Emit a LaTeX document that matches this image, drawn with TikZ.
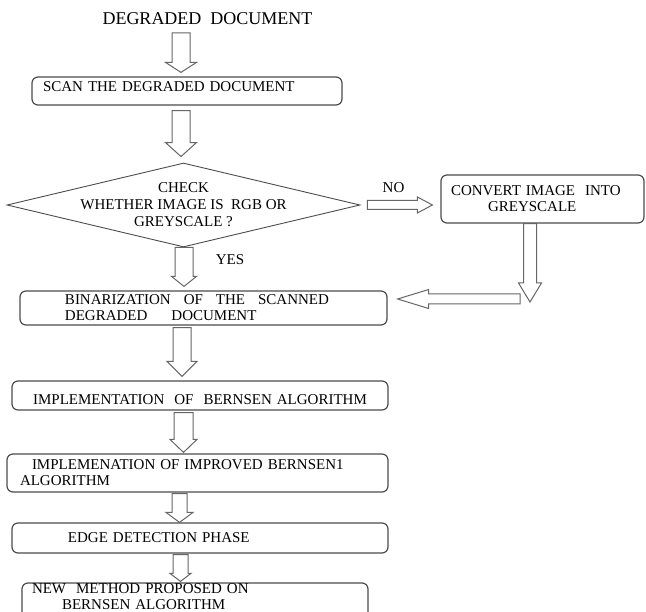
\documentclass[tikz,border=0pt]{standalone}
\usepackage{fontspec}
\setmainfont{Liberation Serif}
\usetikzlibrary{shapes.geometric,calc}
\newcommand{\sk}[1]{\hspace*{#1pt}}
\newcommand{\txt}{\fontsize{15}{16}\selectfont}

\begin{document}
\begin{tikzpicture}[x=1pt,y=-1pt,
   box/.style={draw=black!70,line width=1.2pt,rounded corners=6pt,align=left,
     inner xsep=10pt,inner ysep=0pt,font=\txt},
   blkdown/.style n args={3}{draw=black!60,line width=1pt,fill=white,
     to path={let \p1=(\tikztostart),\p2=(\tikztotarget) in
       (\x1-#1pt,\y1) -- (\x1+#1pt,\y1) -- (\x1+#1pt,\y2+#3pt) -- (\x1+#2pt,\y2+#3pt)
       -- (\x1,\y2) -- (\x1-#2pt,\y2+#3pt) -- (\x1-#1pt,\y2+#3pt) -- cycle}},
   blkside/.style n args={3}{draw=black!60,line width=1pt,fill=white,
     to path={let \p1=(\tikztostart),\p2=(\tikztotarget) in
       (\x1,\y1-#1pt) -- ({\x2-(#3pt)},\y1-#1pt) -- ({\x2-(#3pt)},\y1-#2pt)
       -- (\x2,\y1) -- ({\x2-(#3pt)},\y1+#2pt) -- ({\x2-(#3pt)},\y1+#1pt) -- (\x1,\y1+#1pt) -- cycle}}]
   \useasboundingbox (0,0) rectangle (646,612);
   \node[anchor=base,font=\fontsize{18}{20}\selectfont] (title) at (207.5,25) {DEGRADED\ \ DOCUMENT};
   \node[box,minimum width=310pt,minimum height=28pt,text width=290pt,text depth=8pt] (scan) at (187,91)
     {\sk{1}SCAN THE DEGRADED DOCUMENT};
   \node[diamond,draw=black!70,line width=0.9pt,minimum width=353pt,minimum height=84pt,inner sep=0pt,
     label={[align=center,font=\fontsize{15}{17}\selectfont]center:{CHECK\\WHETHER IMAGE IS\ \ RGB OR\\GREYSCALE ?}}]
     (check) at (183.5,205) {};
   \node[font=\txt] (no) at (393.5,188) {NO};
   \node[box,minimum width=203pt,minimum height=48pt,text width=183pt] (conv) at (542.5,199)
     {CONVERT IMAGE\ \ INTO\\\sk{37}GREYSCALE};
   \coordinate (turn) at (530,302);
   \node[font=\txt] (yes) at (230,260) {YES};
   \node[box,minimum width=367pt,minimum height=34pt,text width=347pt] (binar) at (203.5,308)
     {\sk{35}BINARIZATION\sk{13}OF\sk{13}THE\sk{13}SCANNED\\\sk{35}DEGRADED\sk{24}DOCUMENT};
   \node[box,align=center,minimum width=376pt,minimum height=29pt,text width=356pt,text height=19pt] (impl) at (200,395.5)
     {IMPLEMENTATION\ \ OF\ \ BERNSEN ALGORITHM};
   \node[box,minimum width=381pt,minimum height=38pt,text width=361pt] (impr) at (197.5,473)
     {\sk{15}IMPLEMENATION OF IMPROVED BERNSEN1\\\sk{3}ALGORITHM};
   \node[box,minimum width=376pt,minimum height=30pt,text width=356pt] (edge) at (200,538)
     {\sk{46}EDGE DETECTION PHASE};
   \node[box,minimum width=346pt,text width=326pt,text height=10.5pt,text depth=36pt] (new) at (195,606.25)
     {NEW\ \ METHOD PROPOSED ON\\\sk{30}BERNSEN ALGORITHM};
   \draw[blkdown={9}{15.5}{10}] ($(title.base)+(-26.5,8)$) to ($(scan.north)+(0,-4)$);
   \draw[blkdown={9}{15.5}{14}] ($(scan.south)+(-6,5)$) to ($(check.north)+(0,-6)$);
   \draw[blkside={4.5}{8}{15}] ($(check.east)+(7,0)$) to ($(conv.west)+(-8,0)$);
   \draw[blkdown={6.5}{11.5}{19}] (conv.south -| turn) to (turn);
   \draw[blkside={5}{9.5}{-31}] ($(turn)+(-10,-3)$) to ($(binar.east)+(10,0)$);
   \draw[blkdown={9}{12.5}{10}] ($(check.south)+(0.5,0)$) to ($(binar.north)+(0,-4)$);
   \draw[blkdown={9}{15}{15}] ($(binar.south)+(-21.5,2)$) to ($(impl.north)+(0,-4)$);
   \draw[blkdown={9.5}{13.5}{13}] ($(impl.south)+(-16.5,2)$) to ($(impr.north)+(0,-1)$);
   \draw[blkdown={7.5}{13.5}{10}] ($(impr.south)+(-18,1)$) to (edge.north);
   \draw[blkdown={7.5}{10.5}{8}] ($(edge.south)+(-19.5,1)$) to ($(new.north)+(0,-1)$);
\end{tikzpicture}
\end{document}
